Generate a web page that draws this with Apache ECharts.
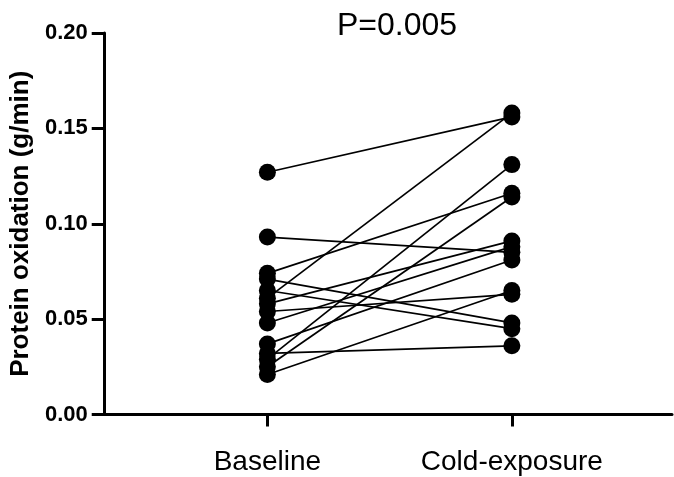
<!DOCTYPE html>
<html>
<head>
<meta charset="utf-8">
<script src="https://cdn.jsdelivr.net/npm/echarts@6/dist/echarts.min.js"></script>
<style>
  html, body { margin: 0; padding: 0; background: #fff; }
  #main { width: 674px; height: 477px; }
</style>
</head>
<body>
<div id="main"></div>
<script>
// groups on the x axis (placed at 1 and 2)
var groups = ['Baseline', 'Cold-exposure'];
// paired values per subject (g/min)
var baseline = [0.127, 0.093, 0.074, 0.071, 0.065, 0.061, 0.058, 0.054, 0.048, 0.037, 0.032, 0.029, 0.025, 0.021];
var coldExposure = [0.156, 0.085, 0.116, 0.048, 0.045, 0.158, 0.091, 0.063, 0.088, 0.081, 0.036, 0.131, 0.114, 0.065];
var yTicks = [0, 0.05, 0.10, 0.15, 0.20];

var chart = echarts.init(document.getElementById('main'));

var series = baseline.map(function (b, i) {
  return {
    type: 'line',
    symbol: 'circle',
    symbolSize: 17,
    itemStyle: { color: '#000' },
    lineStyle: { color: '#000', width: 1.7 },
    emphasis: { disabled: true },
    data: [[1, b], [2, coldExposure[i]]]
  };
});

var option = {
  backgroundColor: '#fff',
  animation: false,
  title: {
    text: 'P=0.005',
    left: 392,
    top: 5,
    textAlign: 'center',
    textStyle: { fontFamily: 'Liberation Sans', fontSize: 32, fontWeight: 'normal', color: '#000' }
  },
  grid: {
    left: 103.5,
    right: 2,
    top: 33,
    bottom: 62.5
  },
  xAxis: {
    type: 'value',
    min: 0.3347,
    max: 2.655,
    splitLine: { show: false },
    axisLine: { lineStyle: { color: '#000', width: 3 } },
    axisTick: { customValues: [1, 2], length: 12, lineStyle: { color: '#000', width: 3 } },
    axisLabel: {
      customValues: [1, 2],
      margin: 34,
      fontFamily: 'Liberation Sans',
      fontSize: 28,
      color: '#000',
      formatter: function (v) { return groups[Math.round(v) - 1]; }
    }
  },
  yAxis: {
    type: 'value',
    min: yTicks[0],
    max: yTicks[yTicks.length - 1],
    interval: 0.05,
    name: 'Protein oxidation (g/min)',
    nameLocation: 'middle',
    nameGap: 70,
    nameTextStyle: { fontFamily: 'Liberation Sans', fontSize: 26, fontWeight: 'bold', color: '#000' },
    splitLine: { show: false },
    axisLine: { show: true, lineStyle: { color: '#000', width: 3 } },
    axisTick: { show: true, length: 13, lineStyle: { color: '#000', width: 3 } },
    axisLabel: {
      margin: 17,
      fontFamily: 'Liberation Sans',
      fontSize: 22,
      fontWeight: 'bold',
      color: '#000',
      formatter: function (v) { return v.toFixed(2); }
    }
  },
  series: series
};

chart.setOption(option);
</script>
</body>
</html>
